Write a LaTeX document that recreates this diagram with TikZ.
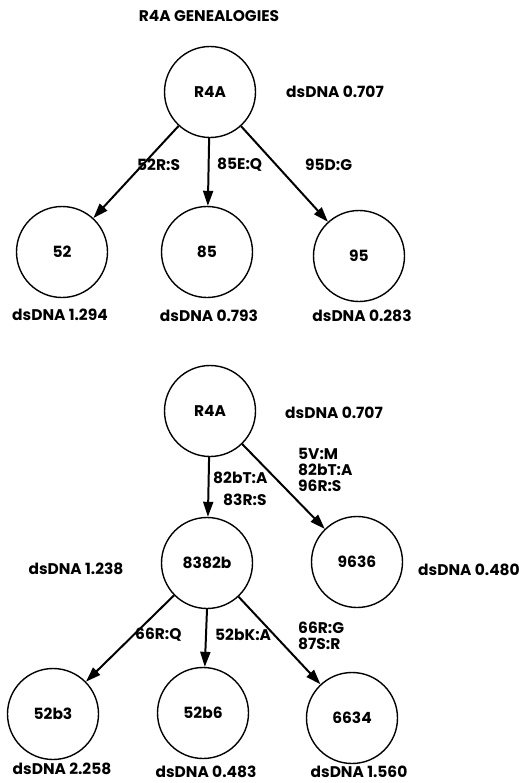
\documentclass[tikz,border=0pt]{standalone}
\usepackage{fontspec}
\setmainfont{Poppins}
\usetikzlibrary{arrows.meta}
\begin{document}
\begin{tikzpicture}[x=1bp,y=-1bp,
  every node/.style={font=\fontsize{15.5}{16}\selectfont\bfseries, inner sep=0pt},
  cell/.style={circle, draw, line width=1.4pt, minimum size=91bp},
  lab/.style={anchor=center},
  mut/.style={anchor=west, align=left},
  arr/.style={line width=2pt, -{Triangle[length=15bp,width=10bp]}}]
\useasboundingbox (0,0) rectangle (519,783);
% top tree
\node[lab] (title) at (209,16) {R4A GENEALOGIES};
\node[cell] (a) at (210,92) {R4A};
\node[lab] (da) at (335,92) {dsDNA 0.707};
\node[cell] (n52) at (62,252) {52};
\node[cell] (n85) at (207,252) {85};
\node[cell] (n95) at (359,256) {95};
\node[lab] (d52) at (60,315) {dsDNA 1.294};
\node[lab] (d85) at (209,316) {dsDNA 0.793};
\node[lab] (d95) at (362,316) {dsDNA 0.283};
\draw[arr] (a) -- (n52);
\draw[arr] (a) -- (n85);
\draw[arr] (a) -- (n95);
\node[mut] (m52) at (137,165) {52R:S};
\node[mut] (m85) at (217,165) {85E:Q};
\node[mut] (m95) at (305,165) {95D:G};
% bottom tree
\node[cell] (b) at (210,411) {R4A};
\node[lab] (db) at (334,413) {dsDNA 0.707};
\node[cell] (n8382) at (207,563) {8382b};
\node[cell] (n9636) at (357,562) {9636};
\node[lab] (d8382) at (76,569) {dsDNA 1.238};
\node[lab] (d9636) at (469,570) {dsDNA 0.480};
\draw[arr] (b) -- (n8382);
\draw[arr] (b) -- (n9636);
\node[mut] (m8382a) at (213,478) {82bT:A};
\node[mut] (m8382b) at (223,500) {83R:S};
\node[mut, align=left] (m9636) at (298,470) {5V:M\\82bT:A\\96R:S};
\node[cell] (n52b3) at (53,714) {52b3};
\node[cell] (n52b6) at (203,713) {52b6};
\node[cell] (n6634) at (352,718) {6634};
\node[lab] (d52b3) at (62,769) {dsDNA 2.258};
\node[lab] (d52b6) at (206,772) {dsDNA 0.483};
\node[lab] (d6634) at (359,772) {dsDNA 1.560};
\draw[arr] (n8382) -- (n52b3);
\draw[arr] (n8382.south) -- (n52b6);
\draw[arr] (n8382) -- (n6634);
\node[mut] (m52b3) at (135,635) {66R:Q};
\node[mut] (m52b6) at (215,635) {52bK:A};
\node[mut, align=left] (m6634) at (298,636) {66R:G\\87S:R};
\end{tikzpicture}
\end{document}
